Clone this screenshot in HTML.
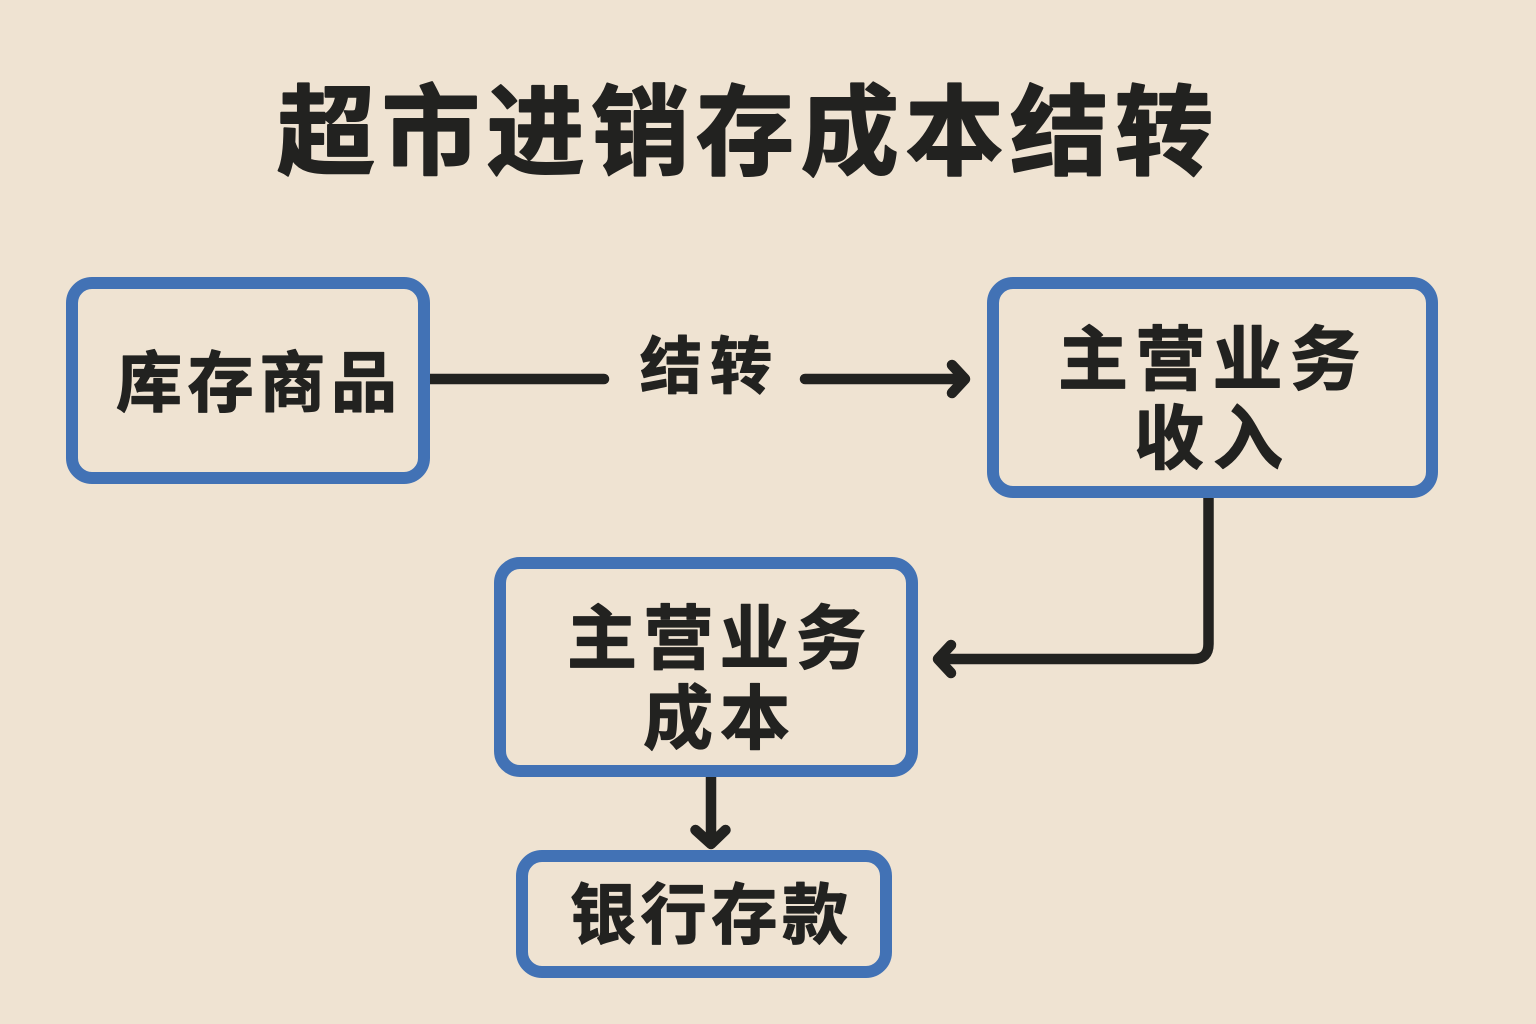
<!DOCTYPE html>
<html lang="zh">
<head>
<meta charset="utf-8">
<style>
html,body{margin:0;padding:0;background:#efe3d2;}
svg{display:block;}
text{font-family:"Liberation Sans","Noto Sans CJK SC",sans-serif;font-weight:700;fill:#222220;stroke:#222220;stroke-width:1.2px;stroke-linejoin:round;}
</style>
</head>
<body>
<svg width="1536" height="1024" viewBox="0 0 1536 1024" xmlns="http://www.w3.org/2000/svg">
<rect width="1536" height="1024" fill="#efe3d2"/>
<text x="277" y="166.5" font-size="98" textLength="936" lengthAdjust="spacing" style="stroke-width:2px">超市进销存成本结转</text>

<g fill="none" stroke="#222220" stroke-width="10.5" stroke-linecap="round" stroke-linejoin="round">
<line x1="424" y1="379" x2="604" y2="379"/>
<line x1="805" y1="379" x2="964" y2="379"/>
<polyline points="952,365 965,379 952,393"/>
<path d="M1208.5 498V644Q1208.5 659 1193.5 659H940"/>
<polyline points="951,645 938,659 951,673"/>
<line x1="711" y1="777" x2="711" y2="843"/>
<polyline points="695.5,830 711,844 725.5,830"/>
</g>

<g fill="none" stroke="#4272b5" stroke-width="12">
<rect x="72" y="283" width="352" height="195" rx="20"/>
<rect x="993" y="283" width="439" height="209" rx="20"/>
<rect x="500" y="563" width="412" height="208" rx="20"/>
<rect x="522" y="856" width="364" height="116" rx="20"/>
</g>

<text x="116" y="406" font-size="66" textLength="281">库存商品</text>
<text x="640" y="388" font-size="62" textLength="132">结转</text>
<text x="1058" y="384" font-size="70" textLength="302">主营业务</text>
<text x="1134" y="463" font-size="70" textLength="149">收入</text>
<text x="567" y="663" font-size="70" textLength="299">主营业务</text>
<text x="643" y="743" font-size="70" textLength="147">成本</text>
<text x="570" y="938" font-size="66" textLength="278">银行存款</text>
</svg>
</body>
</html>
